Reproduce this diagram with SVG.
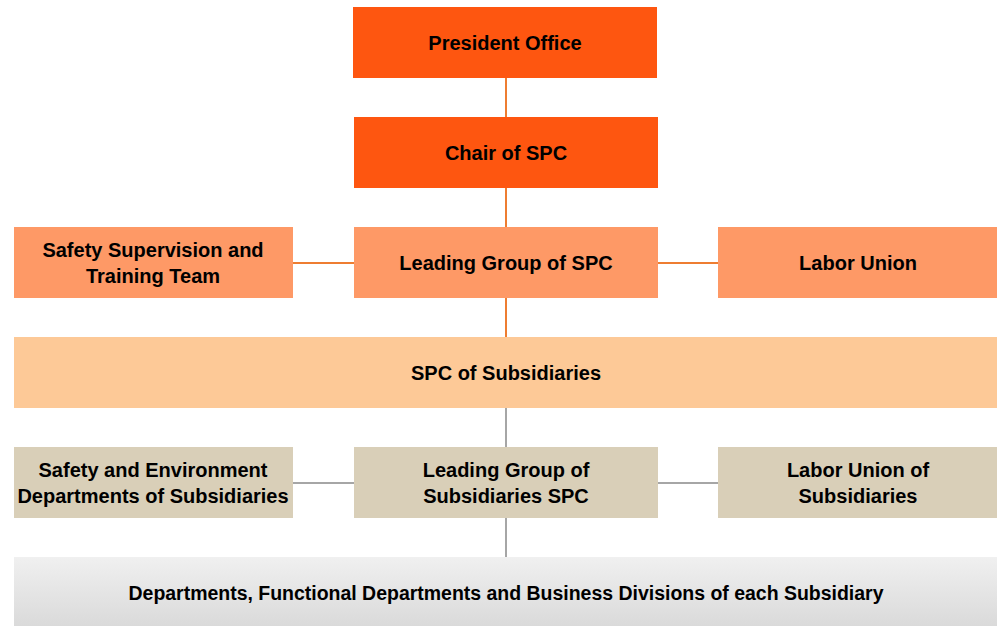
<svg xmlns="http://www.w3.org/2000/svg" width="997" height="626" viewBox="0 0 997 626">
<style>
text{font-family:"Liberation Sans",Arial,sans-serif;font-weight:bold;font-size:20px;fill:#000;text-anchor:middle}
.o{stroke:#ee7d31;stroke-width:2;fill:none}
.g{stroke:#a6a6a6;stroke-width:2;fill:none}
.c1{fill:#fe5610}.c2{fill:#fe9966}.c3{fill:#fdc997}.c4{fill:#d9cfb8}
</style>
<defs>
<linearGradient id="gr" x1="0" y1="0" x2="0" y2="1">
<stop offset="0" stop-color="#f0f0f0"/><stop offset="1" stop-color="#dadada"/>
</linearGradient>
</defs>
<g id="connectors">
<line class="o" x1="506" y1="78" x2="506" y2="117"/>
<line class="o" x1="506" y1="188" x2="506" y2="227"/>
<line class="o" x1="506" y1="298" x2="506" y2="337"/>
<line class="o" x1="293" y1="263" x2="354" y2="263"/>
<line class="o" x1="658" y1="263" x2="718" y2="263"/>
<line class="g" x1="506" y1="408" x2="506" y2="447"/>
<line class="g" x1="506" y1="518" x2="506" y2="557"/>
<line class="g" x1="293" y1="483" x2="354" y2="483"/>
<line class="g" x1="658" y1="483" x2="718" y2="483"/>
</g>
<g id="president"><rect class="c1" x="353" y="7" width="304" height="71"/><text x="505" y="50">President Office</text></g>
<g id="chair"><rect class="c1" x="354" y="117" width="304" height="71"/><text x="506" y="160">Chair of SPC</text></g>
<g id="safety-team"><rect class="c2" x="14" y="227" width="279" height="71"/><text x="153" y="257">Safety Supervision and</text><text x="153" y="283">Training Team</text></g>
<g id="leading-group"><rect class="c2" x="354" y="227" width="304" height="71"/><text x="506" y="270">Leading Group of SPC</text></g>
<g id="labor-union"><rect class="c2" x="718" y="227" width="279" height="71"/><text x="858" y="270">Labor Union</text></g>
<g id="spc-subsidiaries"><rect class="c3" x="14" y="337" width="983" height="71"/><text x="506" y="380">SPC of Subsidiaries</text></g>
<g id="safety-env"><rect class="c4" x="14" y="447" width="279" height="71"/><text x="153" y="477">Safety and Environment</text><text x="153" y="503">Departments of Subsidiaries</text></g>
<g id="leading-sub"><rect class="c4" x="354" y="447" width="304" height="71"/><text x="506" y="477">Leading Group of</text><text x="506" y="503">Subsidiaries SPC</text></g>
<g id="labor-sub"><rect class="c4" x="718" y="447" width="279" height="71"/><text x="858" y="477">Labor Union of</text><text x="858" y="503">Subsidiaries</text></g>
<g id="departments"><rect fill="url(#gr)" x="14" y="557" width="983" height="69"/><text x="506" y="600" textLength="755" lengthAdjust="spacingAndGlyphs">Departments, Functional Departments and Business Divisions of each Subsidiary</text></g>
</svg>
